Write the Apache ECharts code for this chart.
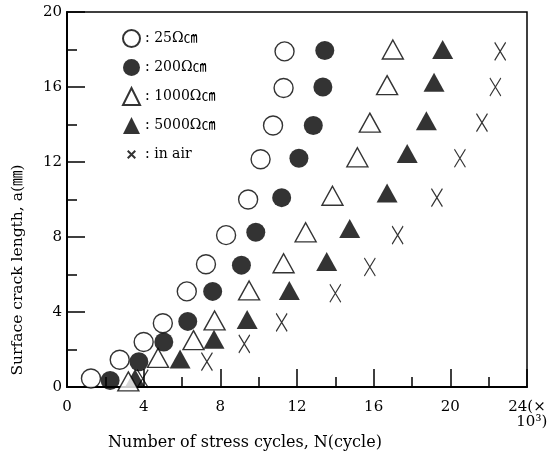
<!DOCTYPE html>
<html>
<head>
<meta charset="utf-8">
<script src="https://cdn.jsdelivr.net/npm/echarts@6/dist/echarts.min.js"></script>
<style>html,body{margin:0;padding:0;background:#fff;}#c{width:550px;height:454px;}</style>
</head>
<body>
<div id="c"></div>
<script>
// Data: [N (x10^3 cycles), a (mm)]
const seriesNames = ['25Ω㎝', '200Ω㎝', '1000Ω㎝', '5000Ω㎝', 'in air'];
const s25 = [[1.25,0.45],[2.75,1.45],[4.0,2.4],[5.0,3.4],[6.25,5.1],[7.25,6.55],[8.3,8.1],[9.45,10.0],[10.1,12.15],[10.75,13.95],[11.3,15.95],[11.35,17.9]];
const s200 = [[2.25,0.35],[3.75,1.35],[5.05,2.4],[6.3,3.5],[7.6,5.1],[9.1,6.5],[9.85,8.25],[11.2,10.1],[12.1,12.2],[12.85,13.95],[13.35,16.0],[13.45,17.95]];
const s1000 = [[3.2,0.3],[4.75,1.55],[6.6,2.5],[7.7,3.55],[9.5,5.15],[11.3,6.6],[12.45,8.25],[13.85,10.2],[15.15,12.25],[15.8,14.1],[16.7,16.1],[17.0,18.0]];
const s5000 = [[3.55,0.45],[5.9,1.5],[7.67,2.55],[9.4,3.6],[11.6,5.15],[13.55,6.7],[14.75,8.45],[16.7,10.35],[17.75,12.45],[18.75,14.2],[19.15,16.25],[19.6,18.0]];
const sAir = [[3.95,0.45],[7.3,1.35],[9.25,2.3],[11.2,3.45],[14.0,5.0],[15.8,6.4],[17.25,8.1],[19.3,10.1],[20.5,12.2],[21.65,14.1],[22.35,16.0],[22.6,17.9]];
const xTicks = [0, 4, 8, 12, 16, 20, 24];
const yTicks = [0, 4, 8, 12, 16, 20];
const xTitle = 'Number of stress cycles, N(cycle)';
const yTitle = 'Surface crack length, a(㎜)';

const FONT = "'DejaVu Serif', 'Noto Sans CJK JP', serif";
const chart = echarts.init(document.getElementById('c'));
const axisCommon = {
  axisLine: { show: true, lineStyle: { color: '#000', width: 2 } },
  axisTick: { show: true, inside: true, length: 18, lineStyle: { color: '#000', width: 1.5 } },
  minorTick: { show: true, splitNumber: 2, length: 10, lineStyle: { color: '#000', width: 1.5 } },
  splitLine: { show: false },
  axisLabel: { color: '#000', fontFamily: FONT, fontSize: 15 },
  nameTextStyle: { color: '#000', fontFamily: FONT, fontSize: 16 }
};
const xMarker = 'path://M0,0L12,20M12,0L0,20';
const xLegendIcon = 'path://M0,0M18,18M5,5L13,13M13,5L5,13';
chart.setOption({
  animation: false,
  backgroundColor: '#fff',
  grid: { left: 67, right: 23, top: 12, bottom: 67, outerBoundsMode: 'none', containLabel: false,
    show: true, borderColor: '#000', borderWidth: 1.5, backgroundColor: 'transparent' },
  legend: {
    orient: 'vertical', left: 117, top: 24, itemWidth: 17, itemHeight: 17, itemGap: 11, itemTextGap: 5,
    data: seriesNames.map((n, i) => (i === 4 ? { name: n, icon: xLegendIcon } : { name: n })),
    formatter: n => ': ' + n,
    textStyle: { color: '#000', fontFamily: FONT, fontSize: 14 }
  },
  graphic: [{
    type: 'text', x: 18, y: 270, rotation: Math.PI / 2,
    style: { text: yTitle, fill: '#000', align: 'center', verticalAlign: 'middle',
      font: "15.5px 'DejaVu Serif', 'Noto Sans CJK JP', serif" }
  }],
  xAxis: Object.assign({}, axisCommon, {
    type: 'value', min: xTicks[0], max: xTicks[xTicks.length - 1], interval: 4,
    name: xTitle, nameLocation: 'middle', nameGap: 47,
    nameTextStyle: Object.assign({}, axisCommon.nameTextStyle, { padding: [0, 104, 0, 0] }),
    axisLabel: Object.assign({}, axisCommon.axisLabel, {
      margin: 13, lineHeight: 15,
      formatter: v => (v === 24 ? '24(×\n  10³)' : String(v))
    })
  }),
  yAxis: Object.assign({}, axisCommon, {
    type: 'value', min: yTicks[0], max: yTicks[yTicks.length - 1], interval: 4,
    axisLabel: Object.assign({}, axisCommon.axisLabel, { margin: 5 })
  }),
  series: [
    { name: seriesNames[0], type: 'scatter', data: s25, symbol: 'circle', symbolSize: 19, z: 5,
      itemStyle: { color: '#fff', borderColor: '#000', borderWidth: 1.4 } },
    { name: seriesNames[1], type: 'scatter', data: s200, symbol: 'circle', symbolSize: 19, z: 4,
      itemStyle: { color: '#000', borderColor: '#000', borderWidth: 0 } },
    { name: seriesNames[2], type: 'scatter', data: s1000, symbol: 'triangle', symbolSize: [21, 19], z: 3,
      itemStyle: { color: '#fff', borderColor: '#000', borderWidth: 1.4 } },
    { name: seriesNames[3], type: 'scatter', data: s5000, symbol: 'triangle', symbolSize: [21, 19], z: 2,
      itemStyle: { color: '#000', borderColor: '#000', borderWidth: 0 } },
    { name: seriesNames[4], type: 'scatter', data: sAir, symbol: xMarker, symbolSize: [11, 18], z: 1,
      itemStyle: { color: 'rgba(0,0,0,0)', borderColor: '#000', borderWidth: 1.3 } }
  ]
});
</script>
</body>
</html>
